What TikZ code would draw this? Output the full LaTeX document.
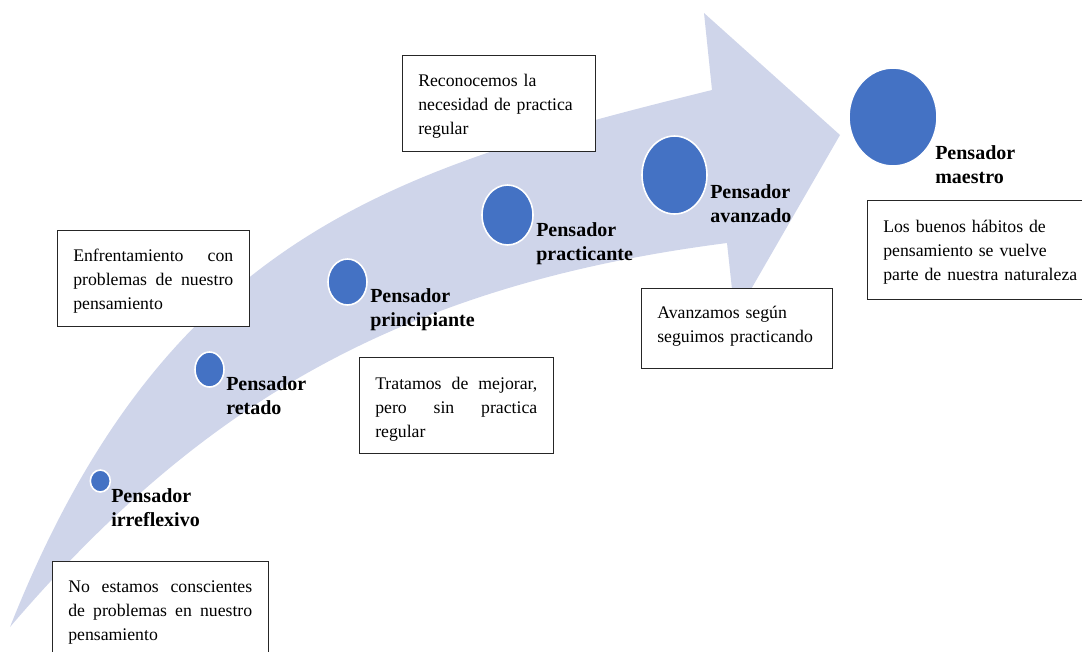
\documentclass[tikz,border=0pt]{standalone}
\usepackage{fontspec}
\setmainfont{Liberation Serif}
\usetikzlibrary{shapes.geometric}
\definecolor{arrowfill}{RGB}{207,213,234}
\definecolor{dotblue}{RGB}{68,114,196}
\begin{document}
\begin{tikzpicture}[x=0.75pt,y=-0.75pt,
  dot/.style={ellipse, fill=dotblue, draw=white, line width=1.2pt, inner sep=0pt},
  lab/.style={anchor=base west, inner sep=0pt, font=\fontsize{15}{18}\selectfont\bfseries, align=left, text width=110pt},
  card/.style={draw=black!85, line width=0.8pt, fill=white, inner sep=0pt, anchor=north west},
  cardtext/.style={anchor=base west, inner sep=0pt, font=\fontsize{13.3}{18}\selectfont, align=left, text width=#1},
  cardtext/.default=160pt]
\path[use as bounding box] (0,0) rectangle (1082,651);
\clip (0,0) rectangle (1082,651);
% curved arrow
\fill[arrowfill] (10,627) .. controls (165,236) and (392,169) .. (712,90)
  -- (704,13) -- (840,135) -- (735,317) -- (727,243)
  .. controls (400,285) and (200,405) .. (10,627) -- cycle;
% dots
\node[dot, minimum width=15pt, minimum height=16.5pt] (d1) at (100.3,481) {};
\node[dot, minimum width=21.75pt, minimum height=26.25pt] (d2) at (209.5,369.5) {};
\node[dot, minimum width=29.25pt, minimum height=34.5pt] (d3) at (347.5,282) {};
\node[dot, minimum width=38.25pt, minimum height=45pt] (d4) at (507.5,215) {};
\node[dot, minimum width=48.75pt, minimum height=58.5pt] (d5) at (674.5,175) {};
\node[dot, minimum width=66pt, minimum height=73.5pt] (d6) at (893,117) {};
% labels
\node[lab] (l1) at (111,502) {Pensador\\irreflexivo};
\node[lab] (l2) at (226,390) {Pensador\\retado};
\node[lab] (l3) at (370,302) {Pensador\\principiante};
\node[lab] (l4) at (536,236) {Pensador\\practicante};
\node[lab] (l5) at (710,198) {Pensador\\avanzado};
\node[lab] (l6) at (935,159.5) {Pensador\\maestro};
% cards
\node[card, minimum width=162pt, minimum height=90pt] (b1) at (52,561) {};
\node[card, minimum width=144pt, minimum height=72pt] (b2) at (57,230) {};
\node[card, minimum width=145.5pt, minimum height=72pt] (b3) at (359,357) {};
\node[card, minimum width=144.75pt, minimum height=72pt] (b4) at (402,55) {};
\node[card, minimum width=143.25pt, minimum height=60pt] (b5) at (641,288) {};
\node[card, minimum width=160.9pt, minimum height=74.25pt] (b6) at (867,200) {};
% card texts
\node[cardtext=138pt] (t1) at (68,592) {\makebox[138pt][s]{No\hfill estamos\hfill conscientes}\\\makebox[138pt][s]{de\hfill problemas\hfill en\hfill nuestro}\\pensamiento};
\node[cardtext=120pt] (t2) at (73,261) {\makebox[120pt][s]{Enfrentamiento\hfill con}\\\makebox[120pt][s]{problemas\hfill de\hfill nuestro}\\pensamiento};
\node[cardtext=121.5pt] (t3) at (375,389) {\makebox[121.5pt][s]{Tratamos\hfill de\hfill mejorar,}\\\makebox[121.5pt][s]{pero\hfill sin\hfill practica}\\regular};
\node[cardtext] (t4) at (418,86) {Reconocemos la\\necesidad de practica\\regular};
\node[cardtext] (t5) at (657,318) {Avanzamos según\\seguimos practicando};
\node[cardtext] (t6) at (883,232) {Los buenos hábitos de\\pensamiento se vuelve\\parte de nuestra naturaleza};
\end{tikzpicture}
\end{document}
